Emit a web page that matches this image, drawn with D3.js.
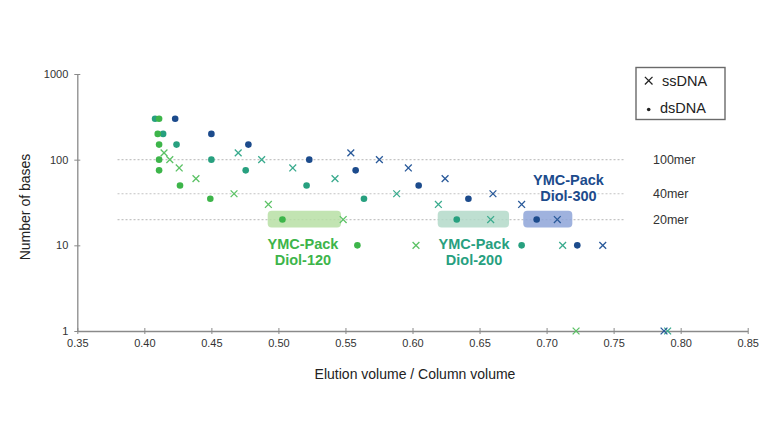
<!DOCTYPE html>
<html>
<head>
<meta charset="utf-8">
<script src="https://cdn.jsdelivr.net/npm/d3@7"></script>
<style>
  html, body { margin: 0; padding: 0; background: #fff; }
  svg { display: block; font-family: "Liberation Sans", Arial, sans-serif; }
</style>
</head>
<body>
<svg id="chart" width="768" height="432"></svg>
<script>
// ---- Data ----
const xTicks = [0.35, 0.40, 0.45, 0.50, 0.55, 0.60, 0.65, 0.70, 0.75, 0.80, 0.85];
const yTicks = [1, 10, 100, 1000];
const merLines = [100, 40, 20];
const merLabels = ["100mer", "40mer", "20mer"];

const columns = ["YMC-Pack Diol-120", "YMC-Pack Diol-200", "YMC-Pack Diol-300"];

// ssDNA (x markers): [elution volume / column volume, number of bases]
const ss120 = [[0.4147,120],[0.419,100],[0.426,80],[0.4385,60],[0.4669,40],[0.4925,30],[0.5483,20],[0.6026,10],[0.722,1]];
const ss200 = [[0.470,120],[0.4875,100],[0.5107,80],[0.5422,60],[0.5882,40],[0.6193,30],[0.6583,20],[0.712,10],[0.7903,1]];
const ss300 = [[0.554,120],[0.5753,100],[0.5969,80],[0.6243,60],[0.660,40],[0.6814,30],[0.708,20],[0.7419,10],[0.7876,1]];

// dsDNA (dots)
const ds120 = [[0.411,300],[0.410,200],[0.411,150],[0.411,100],[0.411,75],[0.4266,50],[0.4492,35],[0.503,20],[0.5589,10]];
const ds200 = [[0.408,300],[0.414,200],[0.424,150],[0.450,100],[0.4756,75],[0.521,50],[0.5638,35],[0.633,20],[0.6814,10]];
const ds300 = [[0.423,300],[0.450,200],[0.4776,150],[0.523,100],[0.5576,75],[0.6046,50],[0.6417,35],[0.6926,20],[0.7229,10]];

// 20mer highlight ranges (elution volume) per column
const box120 = [0.492, 0.5467];
const box200 = [0.6188, 0.672];
const box300 = [0.6826, 0.7192];

// ---- Styles ----
const colors = ["#3db54a", "#27a07f", "#1c4b8c"];
const xColors = ["#5cc266", "#3aab8e", "#2a5a9a"];
const boxFills = ["#b7dfa5", "#b3d9c9", "#8ea5d8"];

const svg = d3.select("#chart");
const x = d3.scaleLinear().domain([0.35, 0.85]).range([77.3, 747.7]);
const y = d3.scaleLog().domain([1, 1000]).range([331, 74]);

const axisColor = "#8a8a8a";
const textColor = "#333";

// dashed reference lines
svg.append("g").selectAll("line").data(merLines).join("line")
  .attr("x1", x(0.380)).attr("x2", x(0.758))
  .attr("y1", d => y(d)).attr("y2", d => y(d))
  .attr("stroke", "#c4c4c4").attr("stroke-width", 1.2)
  .attr("stroke-dasharray", "2,2");

// highlight boxes
const boxes = [box120, box200, box300];
svg.append("g").selectAll("rect").data(boxes).join("rect")
  .attr("x", d => x(d[0])).attr("width", d => x(d[1]) - x(d[0]))
  .attr("y", y(25.4)).attr("height", y(16.2) - y(25.4))
  .attr("rx", 4).attr("ry", 4)
  .attr("fill", (d, i) => boxFills[i]).attr("opacity", 0.85);

// axes
const xAxis = d3.axisBottom(x).tickValues(xTicks).tickFormat(d3.format(".2f")).tickSizeInner(4).tickSizeOuter(0);
const gx = svg.append("g").attr("transform", `translate(0,${y(1)})`).call(xAxis);
gx.select(".domain").attr("stroke", axisColor).attr("stroke-width", 1.3);
gx.selectAll(".tick line").attr("stroke", axisColor).attr("y1", -3).attr("y2", 3);
gx.selectAll(".tick text").attr("fill", textColor).attr("font-size", 11).attr("y", 8)
  .attr("font-family", "Liberation Sans, Arial, sans-serif");

const yAxis = d3.axisLeft(y).tickValues(yTicks).tickFormat(d3.format("d")).tickSizeInner(3).tickSizeOuter(0);
const gy = svg.append("g").attr("transform", `translate(${x(0.35)},0)`).call(yAxis);
gy.select(".domain").attr("stroke", axisColor).attr("stroke-width", 1.3);
gy.selectAll(".tick line").attr("stroke", axisColor).attr("x1", -3).attr("x2", 3);
gy.selectAll(".tick text").attr("fill", textColor).attr("font-size", 11).attr("x", -9)
  .attr("font-family", "Liberation Sans, Arial, sans-serif");

// axis titles
svg.append("text").attr("x", 415).attr("y", 378.5).attr("text-anchor", "middle")
  .attr("font-size", 14).attr("fill", "#222").text("Elution volume / Column volume");
svg.append("text").attr("transform", "translate(30,207) rotate(-90)").attr("text-anchor", "middle")
  .attr("font-size", 14).attr("fill", "#222").text("Number of bases");

// mer labels
svg.append("g").selectAll("text").data(merLines).join("text")
  .attr("x", 653).attr("y", d => y(d) + 4.5)
  .attr("font-size", 12.5).attr("fill", textColor)
  .text((d, i) => merLabels[i]);

// markers
const crossPath = s => `M${-s},${-s}L${s},${s}M${-s},${s}L${s},${-s}`;
const ssSets = [ss200, ss300, ss120];
const ssIdx = [1, 2, 0];
const dsSets = [ds300, ds200, ds120];
const dsIdx = [2, 1, 0];

ssSets.forEach((set, k) => {
  const i = ssIdx[k];
  svg.append("g").selectAll("path").data(set).join("path")
    .attr("transform", d => `translate(${x(d[0])},${y(d[1])})`)
    .attr("d", crossPath(3.4))
    .attr("fill", "none").attr("stroke", xColors[i]).attr("stroke-width", 1.3);
});
dsSets.forEach((set, k) => {
  const i = dsIdx[k];
  svg.append("g").selectAll("circle").data(set).join("circle")
    .attr("cx", d => x(d[0])).attr("cy", d => y(d[1])).attr("r", 3.3)
    .attr("fill", colors[i]);
});

// column labels
const labelPos = [[0.5183, 249], [0.6459, 248.5], [0.7163, 185]];
columns.forEach((c, i) => {
  const parts = c.split(" ");
  const t = svg.append("text").attr("text-anchor", "middle")
    .attr("font-size", 14.5).attr("font-weight", "bold").attr("fill", colors[i]);
  t.append("tspan").attr("x", x(labelPos[i][0])).attr("y", labelPos[i][1]).text(parts[0]);
  t.append("tspan").attr("x", x(labelPos[i][0])).attr("y", labelPos[i][1] + 16).text(parts[1]);
});

// legend
const lg = svg.append("g");
lg.append("rect").attr("x", 636).attr("y", 67.5).attr("width", 89).attr("height", 52)
  .attr("fill", "#fff").attr("stroke", "#6a6a6a").attr("stroke-width", 1.4);
lg.append("path").attr("transform", "translate(648.7,80.7)").attr("d", crossPath(3.8))
  .attr("stroke", "#222").attr("stroke-width", 1.3).attr("fill", "none");
lg.append("text").attr("x", 662).attr("y", 85.5).attr("font-size", 14.5).attr("fill", "#222").text("ssDNA");
lg.append("circle").attr("cx", 648.7).attr("cy", 109.5).attr("r", 1.8).attr("fill", "#222");
lg.append("text").attr("x", 660).attr("y", 112.5).attr("font-size", 14.5).attr("fill", "#222").text("dsDNA");
</script>
</body>
</html>
